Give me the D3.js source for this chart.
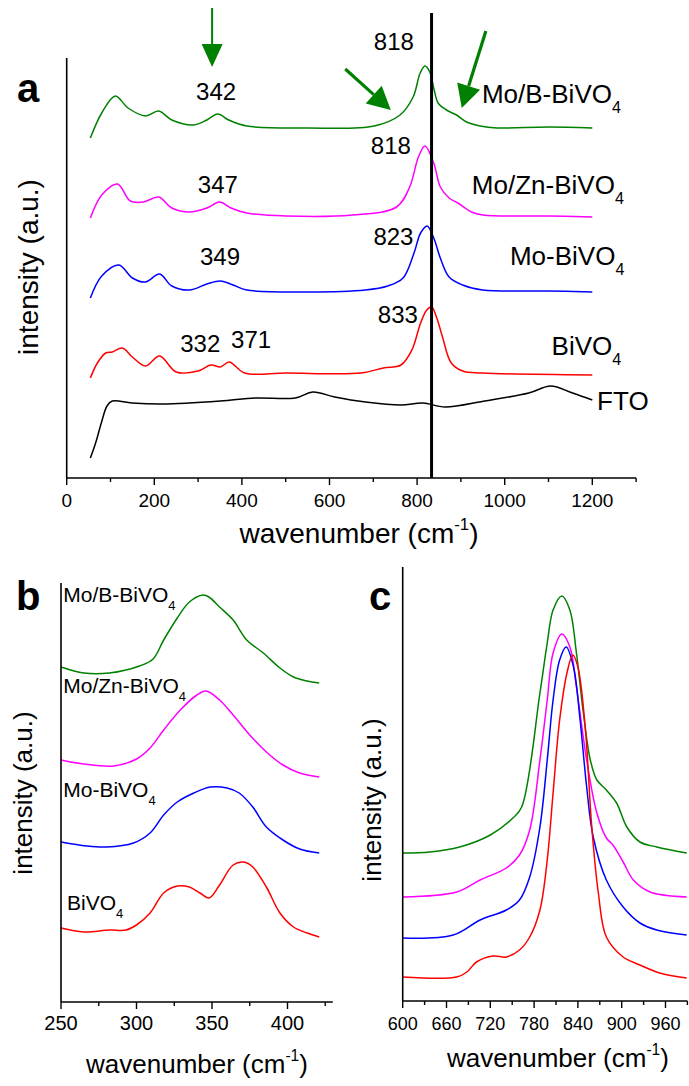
<!DOCTYPE html>
<html>
<head>
<meta charset="utf-8">
<script src="https://cdn.jsdelivr.net/npm/d3@7"></script>
<style>
  body { margin: 0; background: #fff; }
  svg { display: block; font-family: "Liberation Sans", Arial, sans-serif; }
</style>
</head>
<body>
<svg width="689" height="1086"></svg>
<script>
// ---- data (wavenumber cm-1, intensity a.u.) ----
let samples = ["Mo/B-BiVO4", "Mo/Zn-BiVO4", "Mo-BiVO4", "BiVO4", "FTO"];
let colors = ["#008000", "#ff00ff", "#0000ff", "#ff0000", "#000000"];

// panel a: full spectra, stacked
let aMoB = [[54,340],[80,365],[111,382],[140,370],[180,362],[210,367],[240,358],[290,353],[320,358],[345,364],[370,358],[411,352],[551,350],[702,352],[761,363],[791,381],[807,405],[818,412],[829,406],[839,388],[848,375],[867,368],[890,363],[913,356],[944,352],[982,350],[1100,351],[1200,350]];
let aMoZn = [[54,260],[80,283],[116,294],[145,277],[175,276],[210,281],[240,270],[280,266],[320,270],[349,276],[375,270],[411,265],[501,262],[652,263],[753,271],[783,291],[803,321],[818,332],[838,315],[853,291],[873,280],[893,275],[924,266],[950,263],[1100,262],[1200,261]];
let aMo = [[54,180],[80,202],[119,213],[150,200],[180,196],[212,204],[240,192],[280,188],[320,194],[351,197],[380,193],[411,188],[551,186],[682,188],[733,192],[768,200],[793,225],[808,245],[823,252],[838,240],[853,220],[873,201],[904,193],[950,188],[1100,187],[1200,186]];
let aBi = [[54,100],[70,115],[89,125],[104,126],[127,130],[150,121],[180,112],[212,122],[250,106],[300,107],[329,113],[351,111],[371,116],[406,105],[501,105],[672,105],[723,110],[763,113],[788,128],[808,155],[822,168],[833,171],[845,160],[858,141],[878,115],[904,107],[950,105],[1200,103]];
let aFTO = [[54,20],[66,35],[79,55],[92,72],[104,77],[149,75],[220,74],[351,77],[431,80],[522,80],[562,86],[612,81],[682,76],[763,73],[813,75],[864,71],[954,77],[1055,85],[1105,92],[1155,85],[1200,78]];

// panel b: 250-420 region
let bMoB = [[250,335],[265,329],[282,329],[302,336],[311,343],[318,362],[327,384],[335,400],[344,407],[348,405],[355,395],[364,382],[373,362],[384,349],[395,334],[404,325],[413,321],[421,319]];
let bMoZn = [[250,242],[265,238],[285,236],[300,243],[309,254],[318,272],[329,292],[340,307],[346,311],[355,302],[364,287],[375,267],[386,250],[397,237],[408,229],[421,225]];
let bMo = [[250,160],[267,156],[280,155],[298,159],[309,169],[318,187],[327,200],[338,209],[349,215],[360,214],[368,209],[377,195],[386,175],[397,162],[408,153],[421,149]];
let bBi = [[250,74],[265,70],[282,72],[293,72],[300,77],[309,89],[318,109],[327,116],[335,115],[342,109],[348,104],[355,117],[364,137],[371,140],[377,135],[386,115],[395,89],[404,75],[413,69],[421,65]];

// panel c: 600-990 region
let cMoB = [[600,148],[637,149],[678,154],[720,166],[751,183],[763,194],[788,308],[798,358],[806,391],[818,405],[829,391],[838,348],[847,291],[857,241],[866,221],[879,211],[893,198],[907,174],[925,159],[948,154],[989,148]];
let cMoZn = [[600,104],[674,109],[706,121],[742,133],[760,146],[774,171],[788,241],[798,301],[806,348],[818,367],[829,354],[838,314],[852,241],[866,188],[879,163],[888,156],[902,139],[916,121],[939,109],[989,104]];
let cMo = [[600,63],[669,66],[706,81],[742,91],[760,101],[774,124],[788,174],[798,241],[806,301],[815,341],[824,354],[834,334],[843,281],[852,214],[861,164],[879,121],[902,94],[925,78],[948,71],[989,66]];
let cBi = [[600,24],[674,24],[688,29],[701,39],[724,45],[742,44],[760,51],[774,64],[788,91],[798,141],[806,208],[815,281],[825,328],[833,346],[840,334],[850,274],[859,174],[868,108],[879,64],[902,44],[925,36],[952,28],[989,23]];

let aTicks = [0, 200, 400, 600, 800, 1000, 1200];
let aMinor = [100, 300, 500, 700, 900, 1100, 1300];
let bTicks = [250, 300, 350, 400];
let bMinor = [275, 325, 375, 425];
let cTicks = [600, 660, 720, 780, 840, 900, 960];
let cMinor = [630, 690, 750, 810, 870, 930, 990];

// peak labels in panel a: [text, wavenumber, intensity]
let aPeaks = [["342",341,378],["818",747,428],["818",740,324],["347",345,285],["823",746,233],["349",350,213],["833",756,155],["332",305,126],["371",421,130]];
// sample labels: [sample index, wavenumber, intensity]
let aNames = [[0,948,375],[1,925,284],[2,1012,213],[3,1107,123],[4,1211,68]];
let bNames = [[0,251.5,400],[1,251.5,309],[2,251.5,205],[3,254,92]];
// arrows: [x1, i1, x2 (tip), i2 (tip)]
let aArrows = [[332,470,332,411],[636,409,740,368],[957,447,902,370]];
let refLine = 833;

let svg = d3.select("svg");
svg.append("rect").attr("width", 689).attr("height", 1086).attr("fill", "#fff");

function drawAxes(g, x, y, ticks, minor, fs, labelY) {
  let y0 = y.range()[0];
  g.append("line").attr("x1", x.range()[0]).attr("x2", x.range()[1])
    .attr("y1", y0).attr("y2", y0).attr("stroke", "#000").attr("stroke-width", 1.6);
  g.append("line").attr("x1", x.range()[0]).attr("x2", x.range()[0])
    .attr("y1", y.range()[1]).attr("y2", y0).attr("stroke", "#000").attr("stroke-width", 1.6);
  g.selectAll(".maj").data(ticks).enter().append("line")
    .attr("x1", d => x(d)).attr("x2", d => x(d))
    .attr("y1", y0).attr("y2", y0 + 7).attr("stroke", "#000").attr("stroke-width", 1.4);
  g.selectAll(".min").data(minor).enter().append("line")
    .attr("x1", d => x(d)).attr("x2", d => x(d))
    .attr("y1", y0).attr("y2", y0 + 4).attr("stroke", "#000").attr("stroke-width", 1.4);
  g.selectAll(".tl").data(ticks).enter().append("text")
    .attr("x", d => x(d)).attr("y", labelY)
    .attr("text-anchor", "middle").style("font-size", fs + "px").text(d => d);
}

function xTitle(g, cx, by, fs) {
  let t = g.append("text").attr("x", cx).attr("y", by).attr("text-anchor", "middle")
    .style("font-size", fs + "px");
  t.append("tspan").text("wavenumber (cm");
  t.append("tspan").attr("dy", -fs * 0.45).style("font-size", (fs * 0.6) + "px").text("-1");
  t.append("tspan").attr("dy", fs * 0.45).text(")");
}

function yTitle(g, bx, cy, fs) {
  g.append("text").attr("transform", "translate(" + bx + "," + cy + ") rotate(-90)")
    .attr("text-anchor", "middle").style("font-size", fs + "px").text("intensity (a.u.)");
}

function sampleLabel(g, name, px, py, fs) {
  let t = g.append("text").attr("x", px).attr("y", py).style("font-size", fs + "px");
  if (name.endsWith("4")) {
    t.append("tspan").text(name.slice(0, -1));
    t.append("tspan").attr("dy", fs * 0.4).style("font-size", (fs * 0.62) + "px").text("4");
  } else {
    t.text(name);
  }
}

function drawLines(g, x, y, series) {
  let line = d3.line().x(d => x(d[0])).y(d => y(d[1])).curve(d3.curveCatmullRom.alpha(0.5));
  series.forEach((s, i) => {
    g.append("path").datum(s).attr("d", line).attr("fill", "none")
      .attr("stroke", colors[i]).attr("stroke-width", 1.5);
  });
}

// ---------- panel a ----------
let xa = d3.scaleLinear().domain([0, 1300]).range([66.7, 636.1]);
let ya = d3.scaleLinear().domain([0, 420]).range([478, 58]);
let ga = svg.append("g");
drawLines(ga, xa, ya, [aMoB, aMoZn, aMo, aBi, aFTO]);
ga.append("line").attr("x1", xa(refLine)).attr("x2", xa(refLine))
  .attr("y1", ya(465)).attr("y2", ya(0)).attr("stroke", "#000").attr("stroke-width", 3);
drawAxes(ga, xa, ya, aTicks, aMinor, 19, 507);
xTitle(ga, 359, 543, 28);
yTitle(ga, 38, 267, 28);
ga.append("text").attr("x", 17).attr("y", 102).style("font-size", "40px")
  .style("font-weight", "bold").text("a");
ga.selectAll(".pk").data(aPeaks).enter().append("text")
  .attr("x", d => xa(d[1])).attr("y", d => ya(d[2]))
  .attr("text-anchor", "middle").style("font-size", "24px").text(d => d[0]);
aNames.forEach(d => sampleLabel(ga, samples[d[0]], xa(d[1]), ya(d[2]), 26));

// arrows
aArrows.forEach((a, i) => {
  let x1 = xa(a[0]), y1 = ya(a[1]), x2 = xa(a[2]), y2 = ya(a[3]);
  let dx = x2 - x1, dy = y2 - y1, len = Math.hypot(dx, dy);
  let ux = dx / len, uy = dy / len;
  let hl = 23, hw = i == 0 ? 10.5 : 12;
  let bx = x2 - ux * hl, by = y2 - uy * hl;
  ga.append("line").attr("x1", x1).attr("y1", y1).attr("x2", bx).attr("y2", by)
    .attr("stroke", "#008000").attr("stroke-width", i == 0 ? 2 : 3.2);
  ga.append("polygon")
    .attr("points", [[x2, y2], [bx - uy * hw, by + ux * hw], [bx + uy * hw, by - ux * hw]].map(p => p.join(",")).join(" "))
    .attr("fill", "#008000");
});

// ---------- panel b ----------
let xb = d3.scaleLinear().domain([250, 430]).range([61, 332.8]);
let yb = d3.scaleLinear().domain([0, 419]).range([1002, 583]);
let gb = svg.append("g");
drawLines(gb, xb, yb, [bMoB, bMoZn, bMo, bBi]);
drawAxes(gb, xb, yb, bTicks, bMinor, 20, 1030);
xTitle(gb, 197, 1073, 26);
yTitle(gb, 32, 793, 26);
gb.append("text").attr("x", 16).attr("y", 610).style("font-size", "40px")
  .style("font-weight", "bold").text("b");
bNames.forEach(d => sampleLabel(gb, samples[d[0]], xb(d[1]), yb(d[2]), 21));

// ---------- panel c ----------
let xc = d3.scaleLinear().domain([600, 990]).range([402.7, 687.4]);
let yc = d3.scaleLinear().domain([0, 434]).range([1001, 567]);
let gc = svg.append("g");
drawLines(gc, xc, yc, [cMoB, cMoZn, cMo, cBi]);
drawAxes(gc, xc, yc, cTicks, cMinor, 18, 1030);
xTitle(gc, 558, 1067, 26);
yTitle(gc, 381, 800, 26);
gc.append("text").attr("x", 369).attr("y", 610).style("font-size", "40px")
  .style("font-weight", "bold").text("c");
</script>
</body>
</html>
